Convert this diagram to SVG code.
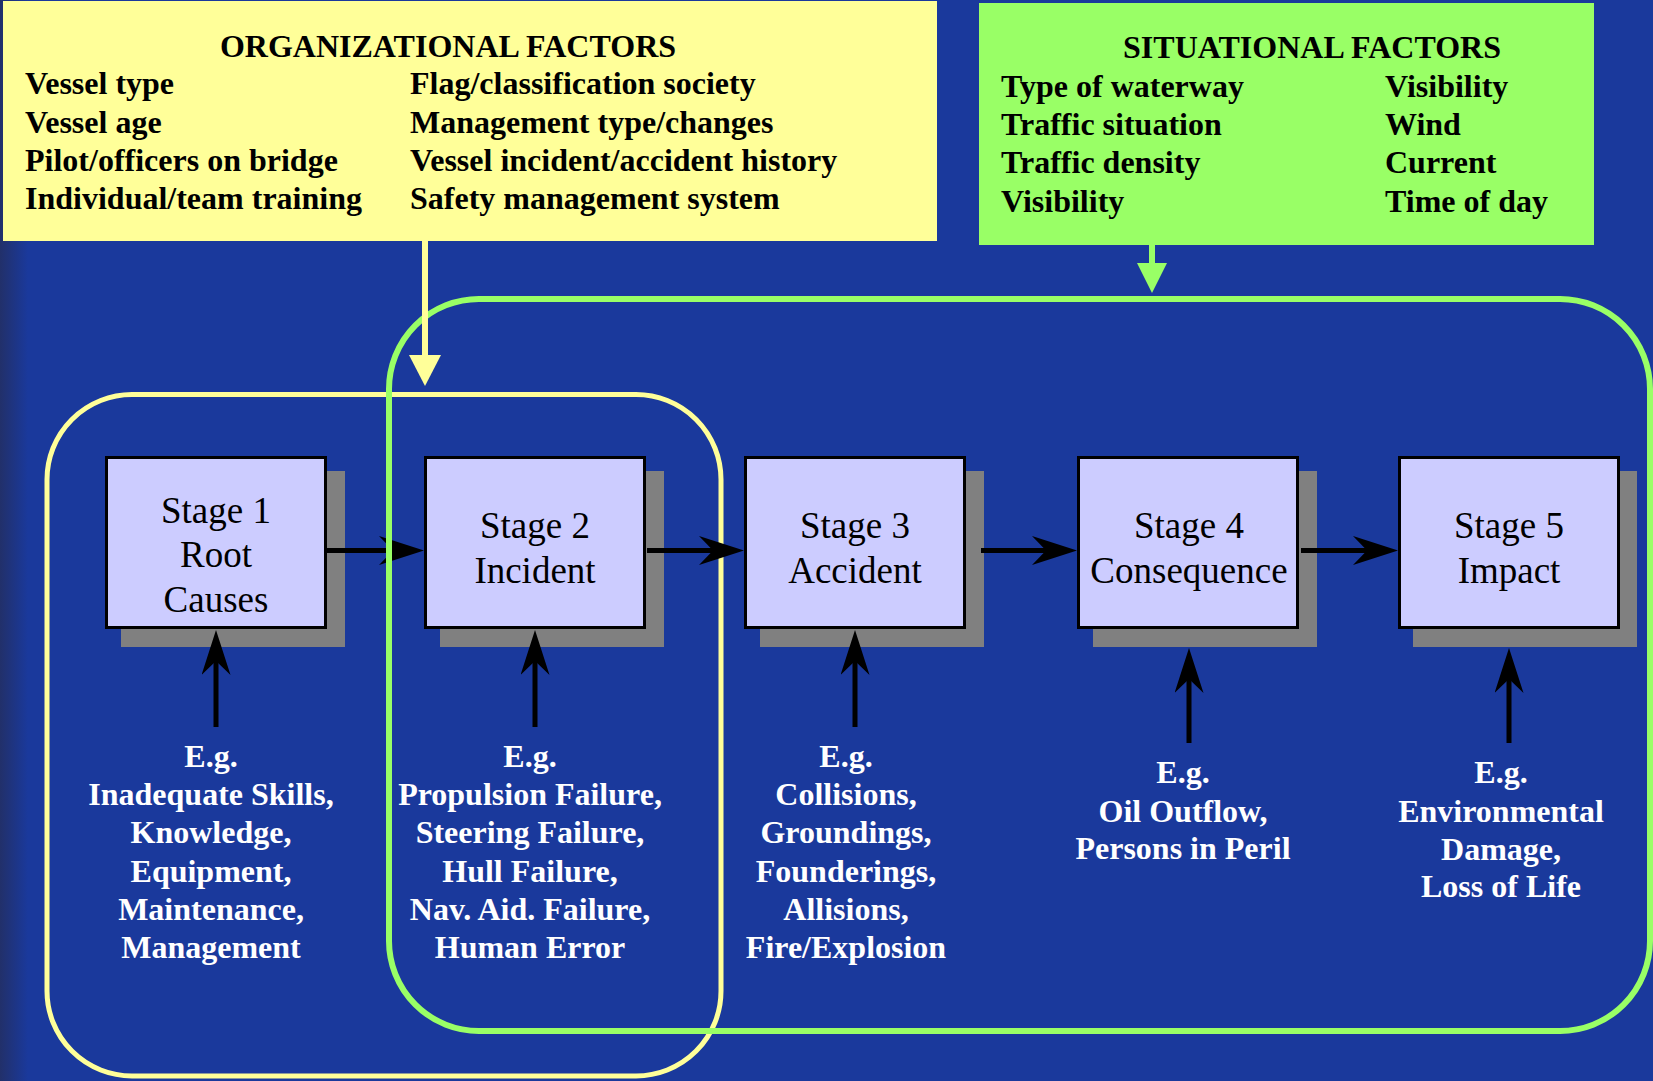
<svg xmlns="http://www.w3.org/2000/svg" width="1653" height="1081" viewBox="0 0 1653 1081">
<style>
.hd{font-family:"Liberation Serif","Times New Roman",serif;font-weight:bold;font-size:32px;fill:#000}
.fl{font-family:"Liberation Serif","Times New Roman",serif;font-weight:bold;font-size:32px;fill:#000}
.st{font-family:"Liberation Serif","Times New Roman",serif;font-size:37px;fill:#000;text-anchor:middle}
.eg{font-family:"Liberation Serif","Times New Roman",serif;font-weight:bold;font-size:32px;fill:#fff;text-anchor:middle}
.box{fill:#ccccff;stroke:#000;stroke-width:3}
.sh{fill:#808080}
.ar{stroke:#000;stroke-width:5;fill:none;marker-end:url(#stealth)}
</style>
<defs>
<linearGradient id="edge" x1="0" y1="0" x2="1" y2="0">
<stop offset="0" stop-color="#22306a"/>
<stop offset="1" stop-color="#1a399c"/>
</linearGradient>
<marker id="stealth" viewBox="0 0 45 29" refX="14" refY="14.5" markerWidth="45" markerHeight="29" markerUnits="userSpaceOnUse" orient="auto">
<path d="M0,0 L45,14.5 L0,29 L14,14.5 Z" fill="#000"/>
</marker>
</defs>
<rect x="0" y="0" width="1653" height="1081" fill="#1a399c"/>
<rect x="0" y="0" width="28" height="1081" fill="url(#edge)"/>

<g id="org-region">
<rect x="47" y="394.5" width="674" height="681.5" rx="85" ry="85" fill="none" stroke="#ffff99" stroke-width="5"/>
</g>

<g id="stage1">
<rect class="sh" x="121" y="471" width="224" height="176"/>
<rect class="box" x="106.5" y="457.5" width="219" height="170"/>
<text class="st" x="216" y="523">Stage 1</text>
<text class="st" x="216" y="567">Root</text>
<text class="st" x="216" y="612">Causes</text>
</g>
<g id="stage2">
<rect class="sh" x="440" y="471" width="224" height="176"/>
<rect class="box" x="425.5" y="457.5" width="219" height="170"/>
<text class="st" x="535" y="538">Stage 2</text>
<text class="st" x="535" y="583">Incident</text>
</g>
<g id="stage3">
<rect class="sh" x="760" y="471" width="224" height="176"/>
<rect class="box" x="745.5" y="457.5" width="219" height="170"/>
<text class="st" x="855" y="538">Stage 3</text>
<text class="st" x="855" y="583">Accident</text>
</g>
<g id="stage4">
<rect class="sh" x="1093" y="471" width="224" height="176"/>
<rect class="box" x="1078.5" y="457.5" width="219" height="170"/>
<text class="st" x="1189" y="538">Stage 4</text>
<text class="st" x="1189" y="583">Consequence</text>
</g>
<g id="stage5">
<rect class="sh" x="1413" y="471" width="224" height="176"/>
<rect class="box" x="1399.5" y="457.5" width="219" height="170"/>
<text class="st" x="1509" y="538">Stage 5</text>
<text class="st" x="1509" y="583">Impact</text>
</g>

<g id="example1">
<text class="eg" x="211" y="767">E.g.</text>
<text class="eg" x="211" y="805">Inadequate Skills,</text>
<text class="eg" x="211" y="843">Knowledge,</text>
<text class="eg" x="211" y="882">Equipment,</text>
<text class="eg" x="211" y="920">Maintenance,</text>
<text class="eg" x="211" y="958">Management</text>
</g>
<g id="example2">
<text class="eg" x="530" y="767">E.g.</text>
<text class="eg" x="530" y="805">Propulsion Failure,</text>
<text class="eg" x="530" y="843">Steering Failure,</text>
<text class="eg" x="530" y="882">Hull Failure,</text>
<text class="eg" x="530" y="920">Nav. Aid. Failure,</text>
<text class="eg" x="530" y="958">Human Error</text>
</g>
<g id="example3">
<text class="eg" x="846" y="767">E.g.</text>
<text class="eg" x="846" y="805">Collisions,</text>
<text class="eg" x="846" y="843">Groundings,</text>
<text class="eg" x="846" y="882">Founderings,</text>
<text class="eg" x="846" y="920">Allisions,</text>
<text class="eg" x="846" y="958">Fire/Explosion</text>
</g>
<g id="example4">
<text class="eg" x="1183" y="783">E.g.</text>
<text class="eg" x="1183" y="822">Oil Outflow,</text>
<text class="eg" x="1183" y="859">Persons in Peril</text>
</g>
<g id="example5">
<text class="eg" x="1501" y="783">E.g.</text>
<text class="eg" x="1501" y="822">Environmental</text>
<text class="eg" x="1501" y="860">Damage,</text>
<text class="eg" x="1501" y="897">Loss of Life</text>
</g>

<g id="connectors">
<line class="ar" x1="327" y1="550.5" x2="393" y2="550.5"/>
<line class="ar" x1="647" y1="550.5" x2="713" y2="550.5"/>
<line class="ar" x1="981" y1="550.5" x2="1046" y2="550.5"/>
<line class="ar" x1="1301" y1="550.5" x2="1367" y2="550.5"/>
<line class="ar" x1="216" y1="727" x2="216" y2="661"/>
<line class="ar" x1="535" y1="727" x2="535" y2="661"/>
<line class="ar" x1="855" y1="727" x2="855" y2="661"/>
<line class="ar" x1="1189" y1="743" x2="1189" y2="679"/>
<line class="ar" x1="1509" y1="743" x2="1509" y2="679"/>
</g>

<g id="sit-region">
<rect x="389" y="299" width="1261" height="732" rx="90" ry="90" fill="none" stroke="#99ff66" stroke-width="6"/>
</g>

<g id="org-factors">
<rect x="3" y="1" width="934" height="240" fill="#ffff99"/>
<text class="hd" x="448" y="57" text-anchor="middle">ORGANIZATIONAL FACTORS</text>
<text class="fl" x="25" y="94">Vessel type</text>
<text class="fl" x="25" y="133">Vessel age</text>
<text class="fl" x="25" y="171">Pilot/officers on bridge</text>
<text class="fl" x="25" y="209">Individual/team training</text>
<text class="fl" x="410" y="94">Flag/classification society</text>
<text class="fl" x="410" y="133">Management type/changes</text>
<text class="fl" x="410" y="171">Vessel incident/accident history</text>
<text class="fl" x="410" y="209">Safety management system</text>
</g>

<g id="sit-factors">
<rect x="979" y="3" width="615" height="242" fill="#99ff66"/>
<text class="hd" x="1312" y="58" text-anchor="middle">SITUATIONAL FACTORS</text>
<text class="fl" x="1001" y="97">Type of waterway</text>
<text class="fl" x="1001" y="135">Traffic situation</text>
<text class="fl" x="1001" y="173">Traffic density</text>
<text class="fl" x="1001" y="212">Visibility</text>
<text class="fl" x="1385" y="97">Visibility</text>
<text class="fl" x="1385" y="135">Wind</text>
<text class="fl" x="1385" y="173">Current</text>
<text class="fl" x="1385" y="212">Time of day</text>
</g>

<g id="factor-connectors">
<rect x="422" y="241" width="6" height="116" fill="#ffff99"/>
<polygon points="409,355 441,355 425,386" fill="#ffff99"/>
<rect x="1149" y="244" width="6" height="21" fill="#99ff66"/>
<polygon points="1137,263 1167,263 1152,293" fill="#99ff66"/>
</g>
</svg>
